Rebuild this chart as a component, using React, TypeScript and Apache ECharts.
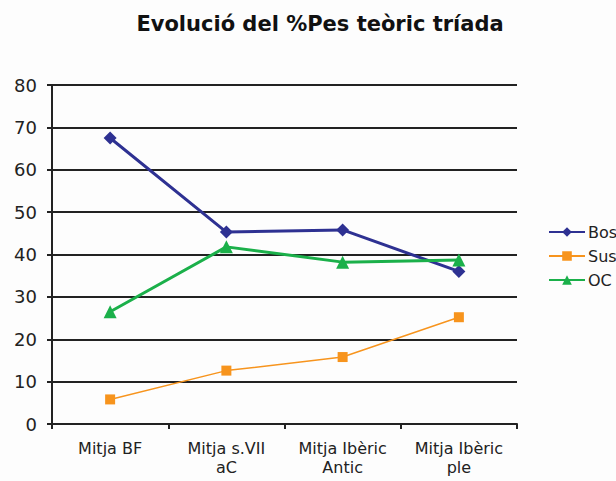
import React, { useEffect, useRef } from "react";
import * as echarts from "echarts";

const categories = ["Mitja BF", "Mitja s.VII\naC", "Mitja Ibèric\nAntic", "Mitja Ibèric\nple"];
const bos = [67.5, 45.3, 45.8, 36.0];
const sus = [5.8, 12.6, 15.8, 25.2];
const oc = [26.5, 41.8, 38.2, 38.7];
const yTicks = [0, 10, 20, 30, 40, 50, 60, 70, 80];

const FONT = "DejaVu Sans, Verdana, sans-serif";

export default function App() {
  const ref = useRef<HTMLDivElement>(null);
  useEffect(() => {
    if (!ref.current) return;
    const chart = echarts.init(ref.current, undefined, { renderer: "svg" });
    chart.setOption({
      animation: false,
      backgroundColor: "#fdfdfd",
      title: {
        text: "Evolució del %Pes teòric tríada",
        left: 315,
        textAlign: "center",
        top: 8,
        textStyle: { fontFamily: FONT, fontSize: 21, fontWeight: "bold", color: "#111" },
      },
      legend: {
        orient: "vertical",
        left: 543,
        top: 219,
        itemWidth: 36,
        itemHeight: 12,
        itemGap: 8,
        textStyle: { fontFamily: FONT, fontSize: 16, color: "#222", padding: [0, 0, 0, -2] },
        data: ["Bos", "Sus", "OC"],
      },
      grid: { left: 52, right: 99, top: 85, bottom: 57, containLabel: false, outerBoundsMode: "none" },
      xAxis: {
        type: "category",
        data: categories,
        boundaryGap: true,
        axisLine: { lineStyle: { color: "#222", width: 2 } },
        axisTick: { show: true, length: 5, lineStyle: { color: "#222", width: 2 } },
        axisLabel: {
          fontFamily: FONT,
          fontSize: 16,
          color: "#222",
          margin: 15,
          lineHeight: 19,
          interval: 0,
        },
      },
      yAxis: {
        type: "value",
        min: 0,
        max: 80,
        interval: 10,
        axisLine: { show: true, lineStyle: { color: "#222", width: 2 } },
        axisTick: { show: true, length: 5, lineStyle: { color: "#222", width: 2 } },
        axisLabel: {
          fontFamily: FONT,
          fontSize: 18,
          color: "#222",
          margin: 15,
          formatter: (v: number) => (yTicks.includes(v) ? String(v) : ""),
        },
        splitLine: { show: true, lineStyle: { color: "#222", width: 2 } },
      },
      series: [
        {
          name: "Bos",
          type: "line",
          data: bos,
          symbol: "diamond",
          symbolSize: 13,
          lineStyle: { color: "#2e3192", width: 3 },
          itemStyle: { color: "#2e3192" },
        },
        {
          name: "Sus",
          type: "line",
          data: sus,
          symbol: "rect",
          symbolSize: 10,
          lineStyle: { color: "#f7941d", width: 1.5 },
          itemStyle: { color: "#f7941d" },
        },
        {
          name: "OC",
          type: "line",
          data: oc,
          symbol: "triangle",
          symbolSize: 13,
          lineStyle: { color: "#1bb04a", width: 3 },
          itemStyle: { color: "#1bb04a" },
        },
      ],
    });
    return () => chart.dispose();
  }, []);
  return <div ref={ref} style={{ width: 616, height: 481, position: "absolute", left: 0, top: 0 }} />;
}
